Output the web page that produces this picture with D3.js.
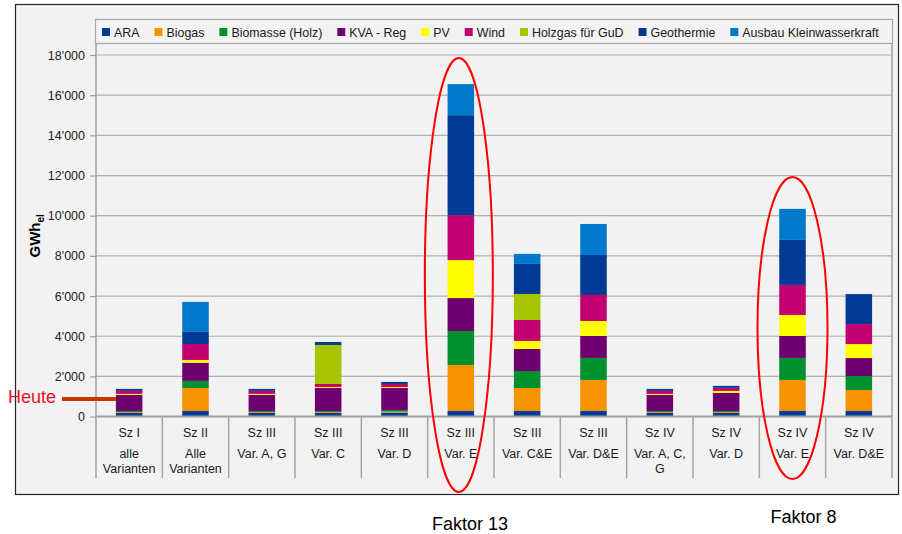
<!DOCTYPE html>
<html>
<head>
<meta charset="utf-8">
<script src="https://cdn.jsdelivr.net/npm/d3@7"></script>
<style>
  body { margin: 0; background: #ffffff; }
  svg { display: block; font-family: "Liberation Sans", Arial, sans-serif; }
</style>
</head>
<body>
<div id="wrapper"></div>
<script>
// categories (two or three label rows)
const catLine1 = ["Sz I", "Sz II", "Sz III", "Sz III", "Sz III", "Sz III", "Sz III", "Sz III", "Sz IV", "Sz IV", "Sz IV", "Sz IV"]
const catLine2 = ["alle", "Alle", "Var. A, G", "Var. C", "Var. D", "Var. E", "Var. C&E", "Var. D&E", "Var. A, C,", "Var. D", "Var. E", "Var. D&E"]
const catLine3 = ["Varianten", "Varianten", "", "", "", "", "", "", "G", "", "", ""]

// series in GWh_el, stacked bottom to top
const seriesNames = ["ARA", "Biogas", "Biomasse (Holz)", "KVA - Reg", "PV", "Wind", "Holzgas für GuD", "Geothermie", "Ausbau Kleinwasserkraft"]
const ara        = [180, 280, 180, 180, 200, 280, 280, 280, 180, 180, 280, 280]
const biogas     = [50, 1145, 50, 50, 50, 2290, 1145, 1545, 50, 50, 1545, 1045]
const biomasse   = [50, 350, 50, 50, 80, 1690, 845, 1095, 50, 50, 1095, 695]
const kva        = [800, 910, 800, 1145, 1095, 1640, 1095, 1095, 800, 900, 1095, 895]
const pv         = [50, 135, 50, 50, 50, 1890, 400, 745, 50, 100, 1045, 695]
const wind       = [150, 795, 150, 150, 150, 2240, 1045, 1295, 150, 150, 1495, 995]
const holzgas    = [0, 0, 0, 1940, 0, 0, 1295, 0, 0, 0, 0, 0]
const geothermie = [100, 600, 100, 150, 100, 4975, 1495, 1990, 100, 100, 2240, 1495]
const kleinwasser = [0, 1495, 0, 0, 0, 1545, 500, 1545, 0, 0, 1545, 0]

const colors = ["#003c9c", "#f59300", "#00902e", "#6f0070", "#ffff00", "#c2006f", "#a6c400", "#003a94", "#0079cc"]

const yTicks = [0, 2000, 4000, 6000, 8000, 10000, 12000, 14000, 16000, 18000]
const heuteValue = 880

const allSeries = [ara, biogas, biomasse, kva, pv, wind, holzgas, geothermie, kleinwasser]

function drawChart() {
    const width = 902
    const height = 534
    const plot = { left: 96, right: 892, top: 55, bottom: 416.6, labelBottom: 478 }

    const table = catLine1.map((c, i) => {
        const row = { idx: i }
        seriesNames.forEach((s, k) => row[s] = allSeries[k][i])
        return row
    })
    const stacked = d3.stack().keys(seriesNames)(table)

    const svg = d3.select("#wrapper")
        .html("")
        .append("svg")
        .attr("width", width)
        .attr("height", height)

    // chart area
    svg.append("rect")
        .attr("x", 15.5).attr("y", 4.5)
        .attr("width", 883).attr("height", 490)
        .attr("fill", "#f2f2f2")
        .attr("stroke", "#262626")
        .attr("stroke-width", 1.2)

    const xScaler = d3.scaleBand()
        .domain(d3.range(catLine1.length))
        .range([plot.left, plot.right])
        .paddingInner(0.6)
        .paddingOuter(0.3)
    const step = xScaler.step()

    const yScaler = d3.scaleLinear()
        .domain([0, 18000])
        .range([plot.bottom, plot.top])

    // gridlines
    svg.append("g")
        .selectAll("line")
        .data(yTicks.filter(d => d > 0))
        .enter()
        .append("line")
        .attr("x1", plot.left).attr("x2", plot.right)
        .attr("y1", d => yScaler(d)).attr("y2", d => yScaler(d))
        .attr("stroke", "#b0b0b0")
        .attr("stroke-width", 1.2)

    // y axis
    const yAxisGen = d3.axisLeft(yScaler)
        .tickValues(yTicks)
        .tickSize(6)
        .tickPadding(5)
        .tickFormat(d => d3.format(",")(d).replace(/,/g, "'"))
    const yAxis = svg.append("g")
        .attr("transform", `translate(${plot.left},0)`)
        .call(yAxisGen)
    yAxis.select(".domain").remove()
    yAxis.selectAll(".tick line").attr("stroke", "#a0a0a0").attr("stroke-width", 1.2)
    yAxis.selectAll(".tick text")
        .attr("fill", "#222")
        .attr("font-size", "12.5px")
        .attr("font-family", "Liberation Sans, Arial, sans-serif")

    // frame lines of plot
    svg.append("line")
        .attr("x1", plot.left).attr("x2", plot.left)
        .attr("y1", 44).attr("y2", plot.labelBottom)
        .attr("stroke", "#a0a0a0").attr("stroke-width", 1.5)
    svg.append("line")
        .attr("x1", plot.right).attr("x2", plot.right)
        .attr("y1", 44).attr("y2", plot.labelBottom)
        .attr("stroke", "#a0a0a0").attr("stroke-width", 1.5)

    // bars
    svg.append("g")
        .selectAll("g")
        .data(stacked)
        .enter()
        .append("g")
        .attr("fill", (d, i) => colors[i])
        .selectAll("rect")
        .data(d => d)
        .enter()
        .append("rect")
        .attr("x", d => xScaler(d.data.idx))
        .attr("y", d => yScaler(d[1]))
        .attr("width", xScaler.bandwidth())
        .attr("height", d => yScaler(d[0]) - yScaler(d[1]))

    // x axis line
    svg.append("line")
        .attr("x1", plot.left).attr("x2", plot.right)
        .attr("y1", plot.bottom).attr("y2", plot.bottom)
        .attr("stroke", "#a0a0a0").attr("stroke-width", 2)

    // category separators
    svg.append("g")
        .selectAll("line")
        .data(d3.range(1, catLine1.length))
        .enter()
        .append("line")
        .attr("x1", d => xScaler(d) - step * 0.3)
        .attr("x2", d => xScaler(d) - step * 0.3)
        .attr("y1", plot.bottom).attr("y2", plot.labelBottom)
        .attr("stroke", "#a6a6a6").attr("stroke-width", 1.5)

    // category labels
    const labels = svg.append("g")
        .attr("font-size", "12.5px")
        .attr("fill", "#1a1a1a")
        .attr("text-anchor", "middle")
    const rows = [[catLine1, 436.5], [catLine2, 458], [catLine3, 473]]
    rows.forEach(([arr, yy]) => {
        labels.selectAll(null)
            .data(arr)
            .enter()
            .append("text")
            .attr("x", (d, i) => xScaler(i) + xScaler.bandwidth() / 2)
            .attr("y", yy)
            .text(d => d)
    })

    // y label
    const yLabel = svg.append("text")
        .attr("transform", `translate(40,${(plot.top + plot.bottom) / 2}) rotate(-90)`)
        .attr("text-anchor", "middle")
        .attr("font-weight", "bold")
        .attr("font-size", "15px")
        .attr("fill", "#000")
    yLabel.append("tspan").text("GWh")
    yLabel.append("tspan").text("el")
        .attr("font-size", "10px")
        .attr("dy", 4)

    // legend
    svg.append("rect")
        .attr("x", 95.5).attr("y", 19.5)
        .attr("width", 797).attr("height", 24)
        .attr("fill", "#f2f2f2")
        .attr("stroke", "#a6a6a6")
        .attr("stroke-width", 1.2)
    let lx = 102
    seriesNames.forEach((name, i) => {
        svg.append("rect")
            .attr("x", lx).attr("y", 28)
            .attr("width", 8).attr("height", 8)
            .attr("fill", colors[i])
        const t = svg.append("text")
            .attr("x", lx + 12).attr("y", 36.5)
            .attr("font-size", "12.4px")
            .attr("fill", "#1a1a1a")
            .text(name)
        lx += 12 + t.node().getComputedTextLength() + 15
    })

    // Heute marker
    svg.append("line")
        .attr("x1", 62).attr("x2", xScaler(0))
        .attr("y1", yScaler(heuteValue)).attr("y2", yScaler(heuteValue))
        .attr("stroke", "#cc3300")
        .attr("stroke-width", 4)
    svg.append("text")
        .attr("x", 8).attr("y", yScaler(heuteValue) + 4)
        .attr("font-size", "18px")
        .attr("fill", "#e8112d")
        .text("Heute")

    // ellipses
    const ellipses = [
        { i: 5, dx: -2, cy: 275, rx: 34, ry: 217 },
        { i: 10, dx: 0, cy: 328, rx: 35, ry: 151 },
    ]
    svg.append("g")
        .selectAll("ellipse")
        .data(ellipses)
        .enter()
        .append("ellipse")
        .attr("cx", d => xScaler(d.i) + xScaler.bandwidth() / 2 + d.dx)
        .attr("cy", d => d.cy)
        .attr("rx", d => d.rx)
        .attr("ry", d => d.ry)
        .attr("fill", "none")
        .attr("stroke", "#ff0000")
        .attr("stroke-width", 2)

    svg.append("text")
        .attr("x", 470).attr("y", 530)
        .attr("text-anchor", "middle")
        .attr("font-size", "18px")
        .attr("fill", "#000")
        .text("Faktor 13")
    svg.append("text")
        .attr("x", 803.5).attr("y", 523)
        .attr("text-anchor", "middle")
        .attr("font-size", "18px")
        .attr("fill", "#000")
        .text("Faktor 8")
}

drawChart()
</script>
</body>
</html>
